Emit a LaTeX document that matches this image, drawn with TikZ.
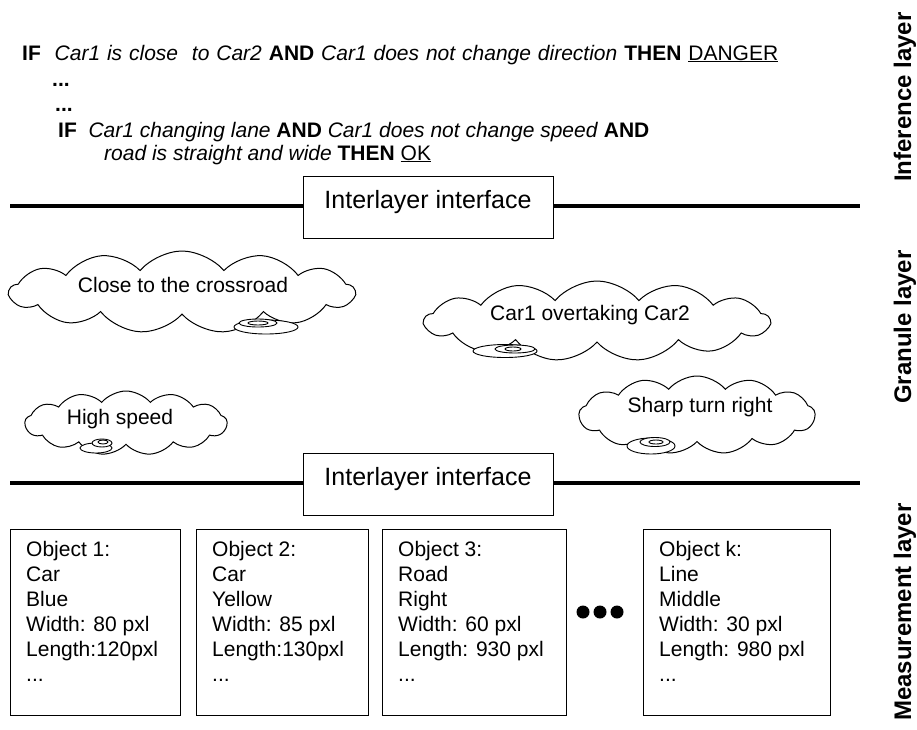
\documentclass[tikz,border=0pt]{standalone}
\usepackage{fontspec}
\setmainfont{Liberation Sans}
\usetikzlibrary{shapes.symbols, shapes.geometric, positioning, calc}
\tikzset{
    layerline/.style={line width=3.5pt},
    iface/.style={
        rectangle, draw, line width=1pt, fill=white, minimum width=250pt,
        inner ysep=0pt, text height=32pt, text depth=30pt,
        font=\fontsize{25}{30}\selectfont
    },
    thought/.style={
        cloud, draw, line width=1pt, cloud puffs=13, cloud puff arc=100,
        inner sep=0pt
    },
    thoughttext/.style={font=\fontsize{21}{25}\selectfont},
    bubble/.style={
        ellipse, draw, line width=0.9pt, fill=white, inner sep=0pt
    },
    objbox/.style={
        rectangle, draw, line width=1pt, minimum height=186pt, anchor=north west
    },
    objtext/.style={
        align=left, anchor=north west, inner sep=0pt,
        font=\fontsize{21}{25}\selectfont
    },
    ruletext/.style={
        anchor=base west, inner sep=0pt, font=\fontsize{21}{25}\selectfont
    },
    layername/.style={
        rotate=90, font=\fontsize{24}{28}\selectfont\bfseries
    },
    bigdot/.style={circle, fill, inner sep=0pt, minimum size=13pt}
}

\begin{document}
\begin{tikzpicture}[x=1pt, y=-1pt]
    \useasboundingbox (0,0) rectangle (917,729);

    % inference layer
    \node[ruletext] (rule1) at (22,60)
        {\makebox[756pt][s]{\textbf{IF} \ \textit{Car1 is close \ to Car2} \textbf{AND} \textit{Car1 does not change direction} \textbf{THEN} \underline{DANGER}}};
    \node[ruletext] (dots1) at (52,86)  {\textbf{...}};
    \node[ruletext] (dots2) at (55,111) {\textbf{...}};
    \node[ruletext] (rule2) at (58,137)
        {\textbf{IF} \ \textit{Car1 changing lane} \textbf{AND} \textit{Car1 does not change speed} \textbf{AND}};
    \node[ruletext] (rule3) at (104,160)
        {\textit{road is straight and wide} \textbf{THEN} \underline{OK}};

    % interlayer interfaces
    \node[iface] (iface1) at (428,207) {Interlayer interface};
    \node[iface] (iface2) at (428,484) {Interlayer interface};
    \coordinate (line1l) at (10,206);
    \coordinate (line1r) at (860,206);
    \coordinate (line2l) at (10,483);
    \coordinate (line2r) at (860,483);
    \draw[layerline] (line1l) -- (line1l -| iface1.west);
    \draw[layerline] (iface1.east |- line1r) -- (line1r);
    \draw[layerline] (line2l) -- (line2l -| iface2.west);
    \draw[layerline] (iface2.east |- line2r) -- (line2r);

    % granule layer
    \node[thought, minimum width=345pt, minimum height=82pt] (cross) at (182,292) {};
    \node[thoughttext] (crosstxt) at (183,285) {Close to the crossroad};
    \node[bubble, minimum width=64pt, minimum height=14pt] (crossb1) at (266,327) {};
    \node[bubble, minimum width=38pt, minimum height=8pt]  (crossb2) at (258,323) {};
    \node[bubble, minimum width=20pt, minimum height=4pt]  (crossb3) at (258,323) {};

    \node[thought, minimum width=345pt, minimum height=80pt] (overt) at (597,321) {};
    \node[thoughttext] (overttxt) at (590,315) {Car1 overtaking Car2};
    \node[bubble, minimum width=64pt, minimum height=13pt] (overtb1) at (505,351) {};
    \node[bubble, minimum width=40pt, minimum height=8pt]  (overtb2) at (515,349) {};
    \node[bubble, minimum width=16pt, minimum height=4pt]  (overtb3) at (513,349) {};

    \node[thought, minimum width=202pt, minimum height=64pt] (speed) at (126,423) {};
    \node[thoughttext] (speedtxt) at (120,419) {High speed};
    \node[bubble, minimum width=32pt, minimum height=10pt] (speedb1) at (96,448) {};
    \node[bubble, minimum width=20pt, minimum height=8pt]  (speedb2) at (102,443) {};
    \node[bubble, minimum width=10pt, minimum height=4pt]  (speedb3) at (103,442) {};

    \node[thought, minimum width=236pt, minimum height=78pt] (turn) at (697,415) {};
    \node[thoughttext] (turntxt) at (700,407) {Sharp turn right};
    \node[bubble, minimum width=48pt, minimum height=16pt] (turnb1) at (651,446) {};
    \node[bubble, minimum width=30pt, minimum height=9pt]  (turnb2) at (655,442) {};
    \node[bubble, minimum width=14pt, minimum height=4pt]  (turnb3) at (656,442) {};

    % measurement layer
    \node[objbox, minimum width=170pt] (obj1) at (10,529) {};
    \node[objbox, minimum width=172pt] (obj2) at (196,529) {};
    \node[objbox, minimum width=184pt] (obj3) at (382,529) {};
    \node[objbox, minimum width=187pt] (obj4) at (643,529) {};
    \node[objtext] (obj1txt) at ($(obj1.north west)+(16,12)$)
        {Object 1:\\Car\\Blue\\Width: 80 pxl\\Length:120pxl\\...};
    \node[objtext] (obj2txt) at ($(obj2.north west)+(16,12)$)
        {Object 2:\\Car\\Yellow\\Width: 85 pxl\\Length:130pxl\\...};
    \node[objtext] (obj3txt) at ($(obj3.north west)+(16,12)$)
        {Object 3:\\Road\\Right\\Width: 60 pxl\\Length: 930 pxl\\...};
    \node[objtext] (obj4txt) at ($(obj4.north west)+(16,12)$)
        {Object k:\\Line\\Middle\\Width: 30 pxl\\Length: 980 pxl\\...};
    \foreach \i/\x in {1/583, 2/600, 3/617}
        \node[bigdot] (more\i) at (\x,612) {};

    % layer names
    \node[layername] (infname)  at (905,97)  {Inference layer};
    \node[layername] (granname) at (905,327) {Granule layer};
    \node[layername] (measname) at (905,612) {Measurement layer};
\end{tikzpicture}
\end{document}
